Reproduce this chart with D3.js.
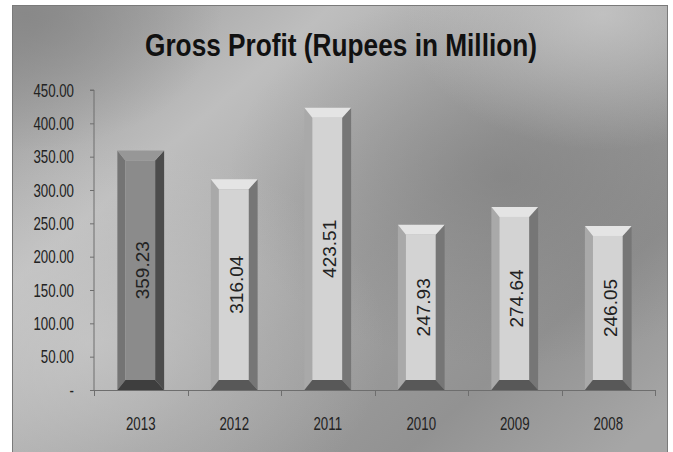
<!DOCTYPE html>
<html>
<head>
<meta charset="utf-8">
<script src="https://cdn.jsdelivr.net/npm/d3@7/dist/d3.min.js"></script>
<style>
  html, body { margin: 0; padding: 0; background: #ffffff; }
  svg { display: block; }
</style>
</head>
<body>
<svg id="chart" width="673" height="452"></svg>
<script>
// Gross profit by year (Rupees in million)
const years = ["2013", "2012", "2011", "2010", "2009", "2008"];
const profit = [359.23, 316.04, 423.51, 247.93, 274.64, 246.05];
const yTicks = [0, 50, 100, 150, 200, 250, 300, 350, 400, 450];
const title = "Gross Profit (Rupees in Million)";

const FONT = "Liberation Sans, Arial, sans-serif";
const NARROW = 0.7;   // horizontal squeeze for the condensed axis labels

const svg = d3.select("#chart");
const frame = { x: 12, y: 5, w: 656, h: 452 };
const plot = { left: 94, right: 655, top: 90, bottom: 390 };

// Background gradients
const defs = svg.append("defs");
const lg = defs.append("linearGradient").attr("id", "bg").attr("x1", "0").attr("y1", "0.1").attr("x2", "1").attr("y2", "0.9");
[["0", "#9c9c9c"], ["0.25", "#bebebe"], ["0.55", "#a0a0a0"], ["0.8", "#929292"], ["1", "#a6a6a6"]]
  .forEach(([o, c]) => lg.append("stop").attr("offset", o).attr("stop-color", c));

function radial(id, cx, cy, r, color, op) {
  const g = defs.append("radialGradient").attr("id", id).attr("cx", cx).attr("cy", cy).attr("r", r);
  g.append("stop").attr("offset", "0").attr("stop-color", color).attr("stop-opacity", op);
  g.append("stop").attr("offset", "1").attr("stop-color", color).attr("stop-opacity", 0);
}
radial("shade", 0.75, 0.38, 0.42, "#6c6c6c", 0.45);
radial("glow", 0.12, 0.75, 0.45, "#d0d0d0", 0.6);
radial("glowTR", 0.9, 0.02, 0.3, "#c8c8c8", 0.8);
radial("darkTL", 0.02, 0.02, 0.3, "#808080", 0.7);

["bg", "shade", "glow", "glowTR", "darkTL"].forEach(id => {
  svg.append("rect").attr("x", frame.x).attr("y", frame.y).attr("width", frame.w).attr("height", frame.h)
    .attr("fill", `url(#${id})`);
});
svg.append("rect").attr("x", frame.x + 0.5).attr("y", frame.y + 0.5).attr("width", frame.w - 1).attr("height", frame.h)
  .attr("fill", "none").attr("stroke", "#7a7a7a").attr("stroke-width", 1);

// Title
svg.append("text")
  .attr("transform", "translate(341,56) scale(0.82,1)")
  .attr("text-anchor", "middle")
  .attr("font-family", FONT).attr("font-size", 32).attr("font-weight", "bold").attr("fill", "#111")
  .text(title);

// Scales
const x = d3.scaleBand().domain(years).range([plot.left, plot.right]).paddingInner(0.5).paddingOuter(0.25);
const y = d3.scaleLinear().domain([0, 450]).range([plot.bottom, plot.top]);

// Y axis
const yAxis = d3.axisLeft(y).tickValues(yTicks).tickSize(4)
  .tickFormat(d => d === 0 ? "-" : d3.format(".2f")(d));
const gy = svg.append("g").attr("transform", `translate(${plot.left},0)`).call(yAxis);
gy.select(".domain").attr("stroke", "#6e6e6e").attr("d", `M-4,${plot.top}H0V${plot.bottom}`);
gy.selectAll(".tick line").attr("stroke", "#6e6e6e");
gy.selectAll(".tick text")
  .attr("font-family", FONT).attr("font-size", 19).attr("fill", "#222")
  .attr("x", -20 / NARROW).attr("transform", `scale(${NARROW},1)`);

// X axis with tick marks at band boundaries
const gx = svg.append("g").attr("transform", `translate(0,${plot.bottom})`);
gx.append("line").attr("x1", plot.left).attr("x2", plot.right).attr("y1", 0.5).attr("y2", 0.5)
  .attr("stroke", "#6e6e6e");
const step = x.step();
const bounds = d3.range(years.length + 1).map(i => plot.left + i * step);
gx.selectAll(".bt").data(bounds).join("line")
  .attr("x1", d => Math.round(d) + 0.5).attr("x2", d => Math.round(d) + 0.5)
  .attr("y1", 0).attr("y2", 6).attr("stroke", "#6e6e6e");
gx.selectAll(".lbl").data(years).join("text")
  .attr("transform", d => `translate(${x(d) + x.bandwidth() / 2},40) scale(${NARROW},1)`)
  .attr("text-anchor", "middle")
  .attr("font-family", FONT).attr("font-size", 19).attr("fill", "#222")
  .text(d => d);

// Bevelled bars
const palettes = {
  dark:  { face: "#8b8b8b", top: "#979797", left: "#747474", right: "#4c4c4c", bottom: "#3e3e3e" },
  light: { face: "#d3d3d3", top: "#e4e4e4", left: "#a9a9a9", right: "#767676", bottom: "#585858" }
};
const bl = 8, br = 9, bt = 10, bb = 10;

const bars = svg.append("g");
years.forEach((yr, i) => {
  const v = profit[i];
  const p = i === 0 ? palettes.dark : palettes.light;
  const x0 = x(yr), x1 = x0 + x.bandwidth();
  const y0 = y(v), y1 = y(0);
  const g = bars.append("g");
  const poly = pts => g.append("polygon").attr("points", pts.map(q => q.join(",")).join(" "));
  poly([[x0, y0], [x0 + bl, y0 + bt], [x0 + bl, y1 - bb], [x0, y1]]).attr("fill", p.left);
  poly([[x1, y0], [x1 - br, y0 + bt], [x1 - br, y1 - bb], [x1, y1]]).attr("fill", p.right);
  poly([[x0, y0], [x1, y0], [x1 - br, y0 + bt], [x0 + bl, y0 + bt]]).attr("fill", p.top);
  poly([[x0, y1], [x1, y1], [x1 - br, y1 - bb], [x0 + bl, y1 - bb]]).attr("fill", p.bottom);
  g.append("rect").attr("x", x0 + bl).attr("y", y0 + bt).attr("width", x1 - x0 - bl - br).attr("height", y1 - y0 - bt - bb)
    .attr("fill", p.face);
  // value label, rotated, centred in the bar
  const cx = (x0 + bl + x1 - br) / 2, cy = (y0 + y1) / 2;
  g.append("text").attr("transform", `translate(${cx + 9},${cy}) rotate(-90)`)
    .attr("text-anchor", "middle")
    .attr("font-family", FONT).attr("font-size", 19).attr("fill", "#222")
    .text(d3.format(".2f")(v));
});
</script>
</body>
</html>
